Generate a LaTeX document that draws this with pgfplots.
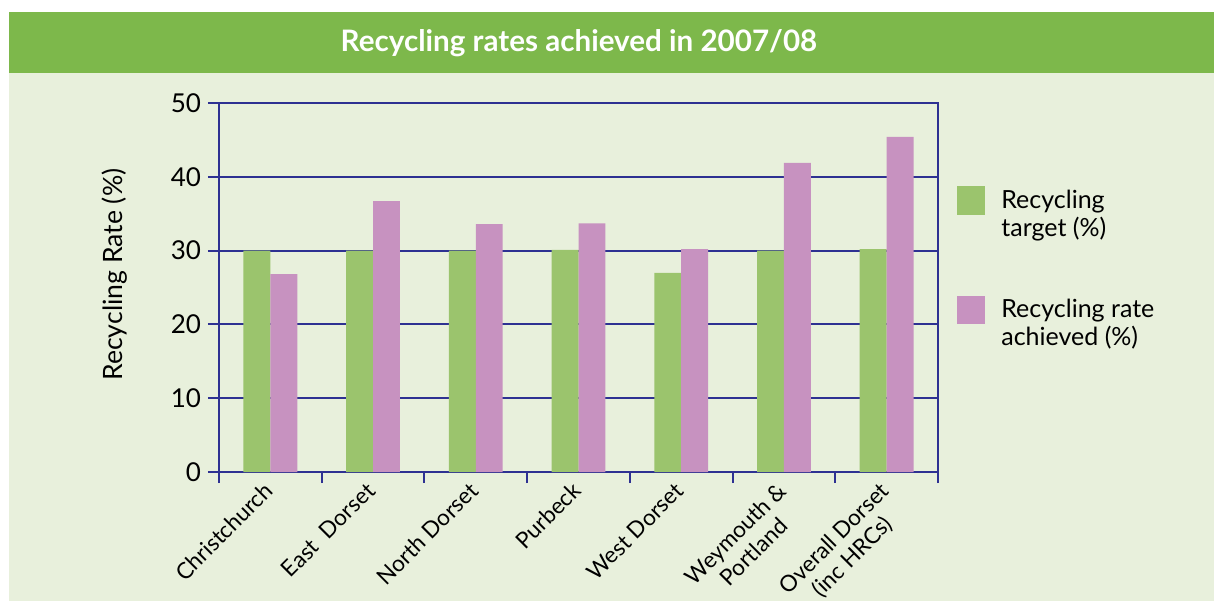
\documentclass[border=0pt]{standalone}
\usepackage{fontspec}
\setmainfont{Lato}
\usepackage{pgfplots}
\pgfplotsset{compat=1.18}

\definecolor{hdr}{HTML}{7DB84B}
\definecolor{bg}{HTML}{E8F0DC}
\definecolor{tgt}{HTML}{9BC46D}
\definecolor{ach}{HTML}{C792C0}
\definecolor{navy}{HTML}{2E3192}

\begin{document}
\begin{tikzpicture}
% frame in pixel units of the reference (y downwards)
\begin{scope}[x=0.5pt,y=-0.5pt]
\fill[white] (0,0) rectangle (1214,601);
\fill[bg] (9,73) rectangle (1214,601);
\fill[hdr] (9,12) rectangle (1214,73);
\node[text=white, font=\fontsize{14.8}{17}\selectfont\bfseries] at (579,43) {Recycling rates achieved in 2007/08};
\end{scope}

\begin{axis}[
  at={(109.5pt,-236pt)}, anchor=south west,
  scale only axis, width=359.5pt, height=184.5pt,
  xmin=-0.5, xmax=6.5, ymin=0, ymax=50,
  ytick={0,10,...,50},
  xtick={0,...,6},
  xticklabels={Christchurch, East\ \ Dorset, North Dorset, Purbeck, West Dorset, {Weymouth \&\\Portland}, {Overall Dorset\\(inc HRCs)}},
  minor xtick={-0.5,0.5,...,6.5},
  major x tick style={draw=none},
  tick pos=left, tick align=outside,
  major tick length=5.5pt, minor tick length=5.5pt,
  ymajorgrids,
  grid style={navy, line width=1pt},
  axis line style={navy, line width=1pt},
  every tick/.style={navy, line width=1pt},
  /pgf/number format/assume math mode=true,
  yticklabel style={font=\fontsize{13}{14}\selectfont, text=black},
  xticklabel style={font=\fontsize{11.3}{12.8}\selectfont, rotate=45, anchor=north east, align=center, text=black, yshift=7pt, xshift=1.5pt},
  ylabel={Recycling Rate (\%)},
  ylabel style={at={(axis description cs:-0.145,0.535)}, anchor=center, font=\fontsize{13.3}{14}\selectfont},
  legend style={at={(axis description cs:1.018,0.788)}, anchor=north west, draw=none, fill=none,
    font=\fontsize{12.5}{14}\selectfont, row sep=26pt, nodes={align=left}},
  legend cell align=left,
  legend image code/.code={\fill[#1] (0pt,-0.35pt) rectangle (14pt,14.1pt); \path (20pt,0pt);},
]
\addplot[ybar, bar width=0.262, bar shift=-0.131, fill=tgt, draw=none]
  coordinates {(0,30) (1,30) (2,30) (3,30.1) (4,27) (5,30) (6,30.2)};
\addlegendentry{Recycling\\target (\%)}
\addplot[ybar, bar width=0.262, bar shift=0.131, fill=ach, draw=none]
  coordinates {(0,26.8) (1,36.7) (2,33.6) (3,33.7) (4,30.2) (5,41.9) (6,45.4)};
\addlegendentry{Recycling rate\\achieved (\%)}
\end{axis}
\pgfresetboundingbox
\path[use as bounding box] (0pt,0pt) rectangle (607pt,-300.5pt);
\end{tikzpicture}
\end{document}
